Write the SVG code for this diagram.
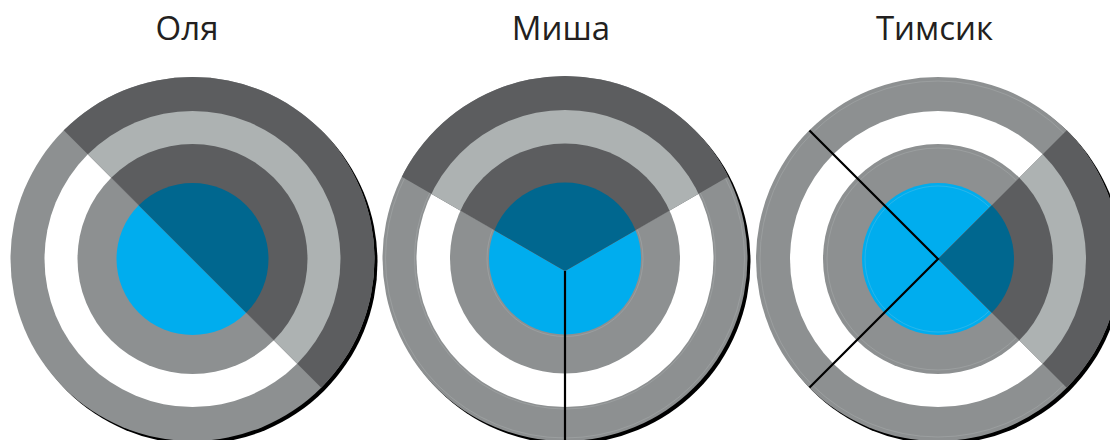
<svg xmlns="http://www.w3.org/2000/svg" width="1110" height="440" viewBox="0 0 1110 440">
  <style>
    .title { font-family: "Open Sans", "Liberation Sans", sans-serif; font-size: 33px; fill: #231f20; text-anchor: middle; }
    .dk0 { fill: #5c5d5f; }
    .dk1 { fill: #adb2b2; }
    .dk2 { fill: #5c5d5f; }
    .dk3 { fill: #00678f; }
    .lt0 { fill: #8d9091; }
    .lt1 { fill: #ffffff; }
    .lt2 { fill: #8d9091; }
    .lt3 { fill: #00adee; }
    .shadow { fill: #000000; }
    .faint { fill: none; stroke: #d4d7d7; stroke-width: 0.5; opacity: 0.4; }
    .cut { stroke: #000000; stroke-width: 2.2; fill: none; }
  </style>
  <defs>
    <clipPath id="clipOlya">
      <polygon points="-100,-33.5 700,766.5 700,-33.5"/>
    </clipPath>
    <clipPath id="clipMisha">
      <polygon points="565,271 218.6,71 218.6,-200 911.4,-200 911.4,71"/>
    </clipPath>
    <clipPath id="clipTimsik">
      <polygon points="938,259 1338,-141 1338,659"/>
    </clipPath>
  </defs>

  <g id="olya">
    <text class="title" x="187" y="40">Оля</text>
    <circle class="shadow" cx="195.5" cy="262" r="182"/>
    <circle class="lt0" cx="192.5" cy="259" r="182"/>
    <circle class="lt1" cx="192.5" cy="259" r="148"/>
    <circle class="lt2" cx="192.5" cy="259" r="115"/>
    <circle class="lt3" cx="192.5" cy="259" r="76"/>
    <g clip-path="url(#clipOlya)">
      <circle class="dk0" cx="192.5" cy="259" r="182"/>
      <circle class="dk1" cx="192.5" cy="259" r="148"/>
      <circle class="dk2" cx="192.5" cy="259" r="115"/>
      <circle class="dk3" cx="192.5" cy="259" r="76"/>
    </g>
  </g>

  <g id="misha">
    <text class="title" x="561" y="40">Миша</text>
    <circle class="shadow" cx="568" cy="261.5" r="182.5"/>
    <circle class="lt0" cx="565" cy="258.5" r="182.5"/>
    <circle class="lt1" cx="565" cy="258.5" r="148.5"/>
    <circle class="lt2" cx="565" cy="258.5" r="115"/>
    <circle class="lt3" cx="565" cy="258.5" r="76"/>
    <circle class="faint" cx="565" cy="258.5" r="179.5"/>
    <circle class="faint" cx="565" cy="258.5" r="150.5"/>
    <circle class="faint" cx="565" cy="258.5" r="78"/>
    <g clip-path="url(#clipMisha)">
      <circle class="dk0" cx="565" cy="258.5" r="182.5"/>
      <circle class="dk1" cx="565" cy="258.5" r="148.5"/>
      <circle class="dk2" cx="565" cy="258.5" r="115"/>
      <circle class="dk3" cx="565" cy="258.5" r="76"/>
    </g>
  </g>

  <g id="timsik">
    <text class="title" x="934.5" y="40">Тимсик</text>
    <circle class="shadow" cx="941" cy="262" r="182"/>
    <circle class="lt0" cx="938" cy="259" r="182"/>
    <circle class="lt1" cx="938" cy="259" r="148"/>
    <circle class="lt2" cx="938" cy="259" r="115"/>
    <circle class="lt3" cx="938" cy="259" r="76"/>
    <circle class="faint" cx="938" cy="259" r="178"/>
    <circle class="faint" cx="938" cy="259" r="111"/>
    <circle class="faint" cx="938" cy="259" r="73"/>
    <g clip-path="url(#clipTimsik)">
      <circle class="dk0" cx="938" cy="259" r="182"/>
      <circle class="dk1" cx="938" cy="259" r="148"/>
      <circle class="dk2" cx="938" cy="259" r="115"/>
      <circle class="dk3" cx="938" cy="259" r="76"/>
    </g>
  </g>

  <g id="connectors">
    <line class="cut" x1="565" y1="271" x2="565" y2="445"/>
    <polyline class="cut" points="809.5,130.5 938,259 809.5,387.5"/>
  </g>
</svg>
